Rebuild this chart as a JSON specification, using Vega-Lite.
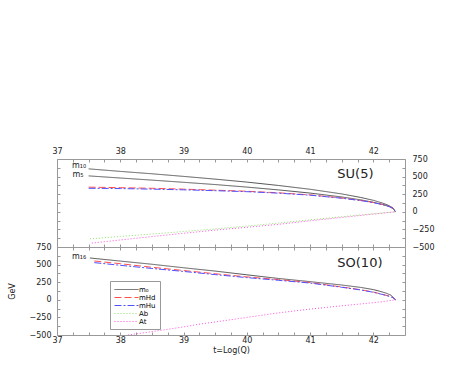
{
  "$schema": "https://vega.github.io/schema/vega-lite/v6.json",
  "padding": {"left": 7, "top": 146, "right": 5, "bottom": 5},
  "background": "white",
  "bounds": "flush",
  "config": {
    "view": {"stroke": "#999999", "strokeWidth": 1},
    "font": "DejaVu Sans",
    "axis": {"labelFont": "DejaVu Sans", "titleFont": "DejaVu Sans", "labelFontSize": 8, "titleFontSize": 8, "labelColor": "#222", "titleColor": "#222", "titleFontWeight": "normal", "grid": false, "domain": false, "tickColor": "#999999", "tickSize": -3, "labelOverlap": false, "labelFlush": false}
  },
  "datasets": {
    "su": [
      {"s":"m10","k":"m₀","t":37.5,"v":610},{"s":"m10","k":"m₀","t":38.0,"v":574},{"s":"m10","k":"m₀","t":38.5,"v":540},{"s":"m10","k":"m₀","t":39.0,"v":503},{"s":"m10","k":"m₀","t":39.5,"v":464},{"s":"m10","k":"m₀","t":40.0,"v":422},{"s":"m10","k":"m₀","t":40.5,"v":374},{"s":"m10","k":"m₀","t":41.0,"v":320},{"s":"m10","k":"m₀","t":41.5,"v":254},{"s":"m10","k":"m₀","t":41.8,"v":204},{"s":"m10","k":"m₀","t":42.0,"v":163},{"s":"m10","k":"m₀","t":42.15,"v":123},{"s":"m10","k":"m₀","t":42.25,"v":87},{"s":"m10","k":"m₀","t":42.31,"v":55},{"s":"m10","k":"m₀","t":42.35,"v":0},
      {"s":"m5","k":"m₀","t":37.5,"v":510},{"s":"m5","k":"m₀","t":38.0,"v":480},{"s":"m5","k":"m₀","t":38.5,"v":450},{"s":"m5","k":"m₀","t":39.0,"v":419},{"s":"m5","k":"m₀","t":39.5,"v":387},{"s":"m5","k":"m₀","t":40.0,"v":351},{"s":"m5","k":"m₀","t":40.5,"v":311},{"s":"m5","k":"m₀","t":41.0,"v":266},{"s":"m5","k":"m₀","t":41.5,"v":211},{"s":"m5","k":"m₀","t":41.8,"v":170},{"s":"m5","k":"m₀","t":42.0,"v":135},{"s":"m5","k":"m₀","t":42.15,"v":103},{"s":"m5","k":"m₀","t":42.25,"v":74},{"s":"m5","k":"m₀","t":42.31,"v":47},{"s":"m5","k":"m₀","t":42.35,"v":0},
      {"s":"hd","k":"mHd","t":37.5,"v":350},{"s":"hd","k":"mHd","t":38.0,"v":343},{"s":"hd","k":"mHd","t":38.5,"v":334},{"s":"hd","k":"mHd","t":39.0,"v":322},{"s":"hd","k":"mHd","t":39.5,"v":307},{"s":"hd","k":"mHd","t":40.0,"v":292},{"s":"hd","k":"mHd","t":40.5,"v":270},{"s":"hd","k":"mHd","t":41.0,"v":240},{"s":"hd","k":"mHd","t":41.5,"v":196},{"s":"hd","k":"mHd","t":41.85,"v":156},{"s":"hd","k":"mHd","t":42.0,"v":132},{"s":"hd","k":"mHd","t":42.15,"v":104},{"s":"hd","k":"mHd","t":42.25,"v":78},{"s":"hd","k":"mHd","t":42.31,"v":50},{"s":"hd","k":"mHd","t":42.35,"v":0},
      {"s":"hu","k":"mHu","t":37.5,"v":334},{"s":"hu","k":"mHu","t":38.0,"v":330},{"s":"hu","k":"mHu","t":38.5,"v":322},{"s":"hu","k":"mHu","t":39.0,"v":312},{"s":"hu","k":"mHu","t":39.5,"v":300},{"s":"hu","k":"mHu","t":40.0,"v":286},{"s":"hu","k":"mHu","t":40.5,"v":265},{"s":"hu","k":"mHu","t":41.0,"v":236},{"s":"hu","k":"mHu","t":41.5,"v":193},{"s":"hu","k":"mHu","t":41.85,"v":153},{"s":"hu","k":"mHu","t":42.0,"v":130},{"s":"hu","k":"mHu","t":42.15,"v":102},{"s":"hu","k":"mHu","t":42.25,"v":76},{"s":"hu","k":"mHu","t":42.31,"v":48},{"s":"hu","k":"mHu","t":42.35,"v":0},
      {"s":"ab","k":"Ab","t":37.52,"v":-385},{"s":"ab","k":"Ab","t":38.0,"v":-350},{"s":"ab","k":"Ab","t":38.5,"v":-316},{"s":"ab","k":"Ab","t":39.0,"v":-280},{"s":"ab","k":"Ab","t":39.5,"v":-243},{"s":"ab","k":"Ab","t":40.0,"v":-203},{"s":"ab","k":"Ab","t":40.5,"v":-160},{"s":"ab","k":"Ab","t":41.0,"v":-115},{"s":"ab","k":"Ab","t":41.5,"v":-70},{"s":"ab","k":"Ab","t":42.0,"v":-28},{"s":"ab","k":"Ab","t":42.35,"v":0},
      {"s":"at","k":"At","t":37.55,"v":-445},{"s":"at","k":"At","t":38.0,"v":-400},{"s":"at","k":"At","t":38.5,"v":-352},{"s":"at","k":"At","t":39.0,"v":-305},{"s":"at","k":"At","t":39.5,"v":-260},{"s":"at","k":"At","t":40.0,"v":-220},{"s":"at","k":"At","t":40.5,"v":-178},{"s":"at","k":"At","t":41.0,"v":-128},{"s":"at","k":"At","t":41.5,"v":-80},{"s":"at","k":"At","t":42.0,"v":-33},{"s":"at","k":"At","t":42.35,"v":0}
    ],
    "so": [
      {"s":"m16","k":"m₀","t":37.52,"v":594},{"s":"m16","k":"m₀","t":38.0,"v":550},{"s":"m16","k":"m₀","t":38.5,"v":505},{"s":"m16","k":"m₀","t":39.0,"v":455},{"s":"m16","k":"m₀","t":39.5,"v":408},{"s":"m16","k":"m₀","t":40.0,"v":355},{"s":"m16","k":"m₀","t":40.5,"v":303},{"s":"m16","k":"m₀","t":41.0,"v":258},{"s":"m16","k":"m₀","t":41.5,"v":210},{"s":"m16","k":"m₀","t":41.8,"v":176},{"s":"m16","k":"m₀","t":42.0,"v":145},{"s":"m16","k":"m₀","t":42.1,"v":122},{"s":"m16","k":"m₀","t":42.2,"v":95},{"s":"m16","k":"m₀","t":42.28,"v":65},{"s":"m16","k":"m₀","t":42.35,"v":0},
      {"s":"hd","k":"mHd","t":37.59,"v":551},{"s":"hd","k":"mHd","t":38.0,"v":513},{"s":"hd","k":"mHd","t":38.5,"v":462},{"s":"hd","k":"mHd","t":39.0,"v":416},{"s":"hd","k":"mHd","t":39.5,"v":370},{"s":"hd","k":"mHd","t":40.0,"v":325},{"s":"hd","k":"mHd","t":40.5,"v":287},{"s":"hd","k":"mHd","t":41.0,"v":245},{"s":"hd","k":"mHd","t":41.5,"v":182},{"s":"hd","k":"mHd","t":41.8,"v":143},{"s":"hd","k":"mHd","t":42.0,"v":110},{"s":"hd","k":"mHd","t":42.15,"v":76},{"s":"hd","k":"mHd","t":42.25,"v":52},{"s":"hd","k":"mHd","t":42.31,"v":32},{"s":"hd","k":"mHd","t":42.35,"v":0},
      {"s":"hu","k":"mHu","t":37.59,"v":528},{"s":"hu","k":"mHu","t":38.0,"v":490},{"s":"hu","k":"mHu","t":38.5,"v":445},{"s":"hu","k":"mHu","t":39.0,"v":403},{"s":"hu","k":"mHu","t":39.5,"v":358},{"s":"hu","k":"mHu","t":40.0,"v":315},{"s":"hu","k":"mHu","t":40.5,"v":277},{"s":"hu","k":"mHu","t":41.0,"v":238},{"s":"hu","k":"mHu","t":41.5,"v":178},{"s":"hu","k":"mHu","t":41.8,"v":140},{"s":"hu","k":"mHu","t":42.0,"v":107},{"s":"hu","k":"mHu","t":42.15,"v":74},{"s":"hu","k":"mHu","t":42.25,"v":50},{"s":"hu","k":"mHu","t":42.31,"v":30},{"s":"hu","k":"mHu","t":42.35,"v":0},
      {"s":"at","k":"At","t":38.12,"v":-500},{"s":"at","k":"At","t":38.47,"v":-457},{"s":"at","k":"At","t":39.0,"v":-385},{"s":"at","k":"At","t":39.26,"v":-345},{"s":"at","k":"At","t":39.5,"v":-315},{"s":"at","k":"At","t":40.0,"v":-250},{"s":"at","k":"At","t":40.53,"v":-182},{"s":"at","k":"At","t":41.06,"v":-126},{"s":"at","k":"At","t":41.58,"v":-78},{"s":"at","k":"At","t":42.11,"v":-31},{"s":"at","k":"At","t":42.35,"v":0}
    ],
    "suLab": [{"t":37.46,"v":650,"txt":"m₁₀"},{"t":37.42,"v":519,"txt":"m₅"}],
    "soLab": [{"t":37.46,"v":608,"txt":"m₁₆"}],
    "suTitle": [{"t":41.43,"v":541,"txt":"SU(5)"}],
    "soTitle": [{"t":41.43,"v":523,"txt":"SO(10)"}]
  },
  "vconcat": [
    {
      "width": 348,
      "height": 88,
      "layer": [
        {
          "data": {"name": "su"},
          "mark": {"type": "line", "strokeWidth": 1, "clip": true},
          "encoding": {
            "x": {"field": "t", "type": "quantitative", "scale": {"domain": [37, 42.5], "nice": false, "zero": false},
                  "axis": {"orient": "top", "title": null, "values": [37,37.25,37.5,37.75,38,38.25,38.5,38.75,39,39.25,39.5,39.75,40,40.25,40.5,40.75,41,41.25,41.5,41.75,42,42.25], "labelExpr": "datum.value % 1 == 0 ? format(datum.value, 'd') : ''", "labelPadding": 7}},
            "y": {"field": "v", "type": "quantitative", "scale": {"domain": [-500, 750], "nice": false, "zero": false},
                  "axis": {"orient": "right", "title": null, "values": [-500,-375,-250,-125,0,125,250,375,500,625,750], "labelExpr": "datum.value % 250 == 0 ? datum.label : ''", "labelPadding": 10}},
            "color": {"field": "k", "type": "nominal", "scale": {"domain": ["m₀","mHd","mHu","Ab","At"], "range": ["#555555","#ff5050","#5050ff","#8ee06a","#ff50dc"]}, "legend": null},
            "strokeDash": {"field": "k", "type": "nominal", "scale": {"domain": ["m₀","mHd","mHu","Ab","At"], "range": [[1,0],[7,3],[7,2,2,2],[1,2],[1,2]]}, "legend": null},
            "detail": {"field": "s"}
          }
        },
        {
          "data": {"name": "suLab"},
          "mark": {"type": "text", "align": "right", "baseline": "middle", "fontSize": 8, "color": "#222"},
          "encoding": {
            "x": {"field": "t", "type": "quantitative", "axis": {"orient": "bottom", "title": null, "labels": false, "minExtent": 0, "maxExtent": 0, "values": [37,37.25,37.5,37.75,38,38.25,38.5,38.75,39,39.25,39.5,39.75,40,40.25,40.5,40.75,41,41.25,41.5,41.75,42,42.25]}},
            "y": {"field": "v", "type": "quantitative", "axis": {"orient": "left", "title": null, "labels": false, "minExtent": 0, "maxExtent": 0, "values": [-500,-375,-250,-125,0,125,250,375,500,625,750]}},
            "text": {"field": "txt"}
          }
        },
        {
          "data": {"name": "suTitle"},
          "mark": {"type": "text", "align": "left", "baseline": "middle", "fontSize": 13, "color": "#222"},
          "encoding": {
            "x": {"field": "t", "type": "quantitative", "axis": null},
            "y": {"field": "v", "type": "quantitative", "axis": null},
            "text": {"field": "txt"}
          }
        }
      ],
      "resolve": {"axis": {"x": "independent", "y": "independent"}}
    },
    {
      "width": 348,
      "height": 88,
      "layer": [
        {
          "data": {"name": "so"},
          "mark": {"type": "line", "strokeWidth": 1, "clip": true},
          "encoding": {
            "x": {"field": "t", "type": "quantitative", "scale": {"domain": [37, 42.5], "nice": false, "zero": false},
                  "axis": {"orient": "bottom", "title": "t=Log(Q)", "titlePadding": 2, "values": [37,37.25,37.5,37.75,38,38.25,38.5,38.75,39,39.25,39.5,39.75,40,40.25,40.5,40.75,41,41.25,41.5,41.75,42,42.25], "labelExpr": "datum.value % 1 == 0 ? format(datum.value, 'd') : ''", "labelPadding": 4}},
            "y": {"field": "v", "type": "quantitative", "scale": {"domain": [-500, 750], "nice": false, "zero": false},
                  "axis": {"orient": "left", "title": "GeV", "titlePadding": 13, "values": [-500,-375,-250,-125,0,125,250,375,500,625,750], "labelExpr": "datum.value % 250 == 0 ? datum.label : ''", "labelPadding": 9}},
            "color": {"field": "k", "type": "nominal", "scale": {"domain": ["m₀","mHd","mHu","Ab","At"], "range": ["#555555","#ff5050","#5050ff","#8ee06a","#ff50dc"]},
                      "legend": {"orient": "none", "legendX": 53, "legendY": 34, "title": null, "strokeColor": "#999999", "fillColor": "white", "padding": 4, "labelFontSize": 7, "labelFont": "DejaVu Sans", "rowPadding": 0, "symbolType": "M-1,0H5", "symbolSize": 64, "symbolStrokeWidth": 1, "labelOffset": 16}},
            "strokeDash": {"field": "k", "type": "nominal", "scale": {"domain": ["m₀","mHd","mHu","Ab","At"], "range": [[1,0],[7,3],[7,2,2,2],[1,2],[1,2]]}},
            "detail": {"field": "s"}
          }
        },
        {
          "data": {"name": "soLab"},
          "mark": {"type": "text", "align": "right", "baseline": "middle", "fontSize": 8, "color": "#222"},
          "encoding": {
            "x": {"field": "t", "type": "quantitative", "axis": {"orient": "top", "title": null, "labels": false, "minExtent": 0, "maxExtent": 0, "values": [37,37.25,37.5,37.75,38,38.25,38.5,38.75,39,39.25,39.5,39.75,40,40.25,40.5,40.75,41,41.25,41.5,41.75,42,42.25]}},
            "y": {"field": "v", "type": "quantitative", "axis": {"orient": "right", "title": null, "labels": false, "minExtent": 0, "maxExtent": 0, "values": [-500,-375,-250,-125,0,125,250,375,500,625,750]}},
            "text": {"field": "txt"}
          }
        },
        {
          "data": {"name": "soTitle"},
          "mark": {"type": "text", "align": "left", "baseline": "middle", "fontSize": 13, "color": "#222"},
          "encoding": {
            "x": {"field": "t", "type": "quantitative", "axis": null},
            "y": {"field": "v", "type": "quantitative", "axis": null},
            "text": {"field": "txt"}
          }
        }
      ],
      "resolve": {"axis": {"x": "independent", "y": "independent"}}
    }
  ],
  "spacing": 0,
  "resolve": {"scale": {"color": "independent", "strokeDash": "independent"}}
}
